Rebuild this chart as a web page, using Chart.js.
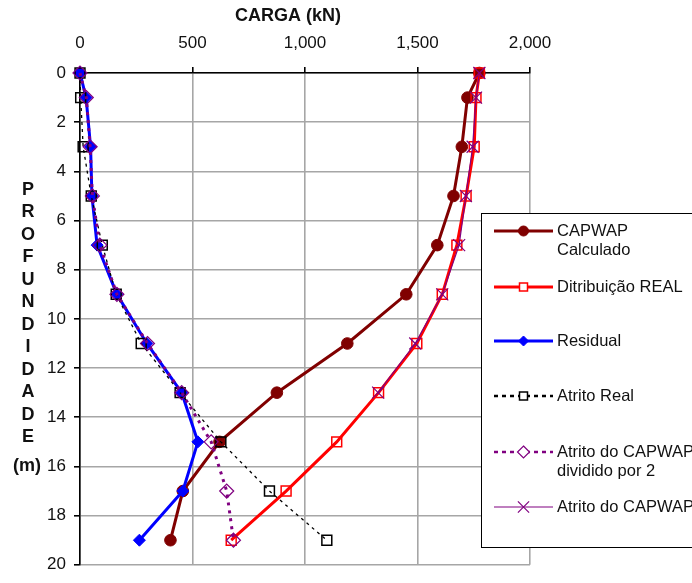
<!DOCTYPE html>
<html>
<head>
<meta charset="utf-8">
<script src="https://cdn.jsdelivr.net/npm/chart.js@4.4.1/dist/chart.umd.min.js"></script>
<style>
html,body{margin:0;padding:0;background:#fff;}
#wrap{position:relative;width:692px;height:583px;}
</style>
</head>
<body>
<div id="wrap"><canvas id="c" width="692" height="583"></canvas></div>
<script>
// ---- data ----
const depths = [0, 1, 3, 5, 7, 9, 11, 13, 15, 17, 19];
const capwapCalculado = [1775, 1722, 1697, 1660, 1588, 1450, 1188, 875, 620, 457, 402];
const distribuicaoReal = [1775, 1760, 1752, 1716, 1675, 1610, 1497, 1327, 1141, 916, 672];
const residual = [0, 27, 47, 53, 76, 164, 297, 452, 524, 457, 264];
const atritoReal = [0, 3, 14, 50, 99, 161, 272, 445, 626, 842, 1097];
const atritoCapwapMeio = [0, 28, 45, 55, 88, 164, 300, 452, 583, 652, 682];
const atritoCapwap = [1775, 1760, 1745, 1715, 1685, 1610, 1490, 1325];
const seriesNames = ['CAPWAP Calculado', 'Ditribuição REAL', 'Residual', 'Atrito Real', 'Atrito do CAPWAP dividido por 2', 'Atrito do CAPWAP'];
const legendLines = [['CAPWAP', 'Calculado'], ['Ditribuição REAL'], ['Residual'], ['Atrito Real'], ['Atrito do CAPWAP', 'dividido por 2'], ['Atrito do CAPWAP']];
const xTickValues = [0, 500, 1000, 1500, 2000];
const xTickLabels = ['0', '500', '1,000', '1,500', '2,000'];
const yTickValues = [0, 2, 4, 6, 8, 10, 12, 14, 16, 18, 20];
const xTitle = 'CARGA (kN)';
const yTitleLetters = ['P','R','O','F','U','N','D','I','D','A','D','E'];
const yTitleUnit = '(m)';

const FONT = "'Liberation Sans', Arial, Helvetica, sans-serif";
Chart.defaults.font.family = FONT;
Chart.defaults.color = '#111';

function pts(vals){ return vals.map((v,i)=>({x:v, y:depths[i]})); }

const styles = [
  {color:'#800000', width:3, dash:[], point:'circle', r:5.8, fill:'#800000', pw:1, lr:5},
  {color:'#ff0000', width:3, dash:[], point:'rect', r:7, fill:'rgba(255,255,255,0)', pw:1.5, lr:5},
  {color:'#0000ff', width:3, dash:[], point:'rectRot', r:6, fill:'#0000ff', pw:1, lr:5},
  {color:'#000000', width:1.3, dash:[3,4], point:'rect', r:7, fill:'rgba(255,255,255,0)', pw:1.5, lr:5},
  {color:'#800080', width:3, dash:[3,5], point:'rectRot', r:7, fill:'rgba(255,255,255,0)', pw:1.2, lr:6},
  {color:'#800080', width:1.2, dash:[], point:'crossRot', r:8.5, fill:'#800080', pw:1.2, lr:8},
];
const seriesData = [capwapCalculado, distribuicaoReal, residual, atritoReal, atritoCapwapMeio, atritoCapwap];

const datasets = seriesData.map((vals,i)=>({
  label: seriesNames[i],
  data: pts(vals),
  borderColor: styles[i].color,
  backgroundColor: styles[i].fill,
  borderWidth: styles[i].width,
  borderDash: styles[i].dash,
  pointStyle: styles[i].point,
  pointRadius: styles[i].r,
  pointHoverRadius: styles[i].r,
  pointBackgroundColor: styles[i].fill,
  pointBorderColor: styles[i].color,
  pointBorderWidth: styles[i].pw,
  tension: 0,
  fill: false,
  clip: false,
  order: 6 - i
}));

function drawMarker(ctx, st, x, y){
  ctx.save();
  ctx.setLineDash([]);
  ctx.lineWidth = st.pw;
  ctx.strokeStyle = st.color;
  ctx.fillStyle = st.fill;
  const r = st.lr;
  ctx.beginPath();
  if (st.point === 'circle') { ctx.arc(x, y, r, 0, Math.PI*2); ctx.fill(); ctx.stroke(); }
  else if (st.point === 'rect') { ctx.fillStyle='#fff'; ctx.rect(x-r*0.8, y-r*0.8, r*1.6, r*1.6); ctx.fill(); ctx.stroke(); }
  else if (st.point === 'rectRot') { ctx.moveTo(x, y-r); ctx.lineTo(x+r, y); ctx.lineTo(x, y+r); ctx.lineTo(x-r, y); ctx.closePath(); if(st.fill.indexOf('rgba')===0){ctx.fillStyle='#fff';} ctx.fill(); ctx.stroke(); }
  else if (st.point === 'crossRot') { const d=r*0.7; ctx.moveTo(x-d,y-d); ctx.lineTo(x+d,y+d); ctx.moveTo(x+d,y-d); ctx.lineTo(x-d,y+d); ctx.stroke(); }
  ctx.restore();
}

const decorPlugin = {
  id: 'decor',
  afterDraw(chart){
    const ctx = chart.ctx;
    ctx.save();
    // x title
    ctx.fillStyle = '#111';
    ctx.font = 'bold 18px ' + FONT;
    ctx.textAlign = 'center';
    ctx.textBaseline = 'middle';
    ctx.fillText(xTitle, 288, 16);
    // y title
    ctx.font = 'bold 18px ' + FONT;
    yTitleLetters.forEach((l,i)=>ctx.fillText(l, 28, 190 + i*22.5));
    ctx.fillText(yTitleUnit, 27, 466);
    // legend box
    const bx = 481.5, by = 213.5, bw = 260, bh = 334;
    ctx.fillStyle = '#fff';
    ctx.fillRect(bx, by, bw, bh);
    ctx.strokeStyle = '#000';
    ctx.lineWidth = 1;
    ctx.strokeRect(bx, by, bw, bh);
    const rowsY = [231, 287, 341, 396, 452, 507];
    ctx.font = '16.5px ' + FONT;
    ctx.textAlign = 'left';
    ctx.textBaseline = 'middle';
    rowsY.forEach((y,i)=>{
      const st = styles[i];
      ctx.save();
      ctx.strokeStyle = st.color;
      ctx.lineWidth = Math.max(st.width, 1.2);
      if (i===3 || i===4) { ctx.lineWidth = 2.5; ctx.setLineDash([4,4]); }
      ctx.beginPath(); ctx.moveTo(494, y); ctx.lineTo(553, y); ctx.stroke();
      ctx.restore();
      drawMarker(ctx, st, 523.5, y);
      ctx.fillStyle = '#111';
      legendLines[i].forEach((t,k)=>ctx.fillText(t, 557, y + k*19.5));
    });
    ctx.restore();
  }
};

new Chart(document.getElementById('c'), {
  type: 'line',
  data: { datasets },
  options: {
    responsive: false,
    animation: false,
    devicePixelRatio: 1,
    layout: { padding: { left: 0, top: 0, right: 162, bottom: 7 } },
    plugins: { legend: { display: false }, tooltip: { enabled: false }, title: { display: false } },
    scales: {
      x: {
        type: 'linear', position: 'top', min: 0, max: 2000,
        afterFit(s){ s.height = 73; },
        afterBuildTicks(s){ s.ticks = xTickValues.map(v=>({value:v})); },
        ticks: {
          font: { size: 17 }, color: '#111', padding: 13, maxRotation: 0,
          callback(v){ const i = xTickValues.indexOf(v); return i>=0 ? xTickLabels[i] : ''; }
        },
        grid: { color: '#a6a6a6', lineWidth: 1.6, tickColor: '#000', tickLength: 6, drawTicks: true },
        border: { color: '#000', width: 1.6 }
      },
      y: {
        type: 'linear', reverse: true, min: 0, max: 20,
        afterFit(s){ s.width = 80; },
        afterBuildTicks(s){ s.ticks = yTickValues.map(v=>({value:v})); },
        ticks: { font: { size: 17 }, color: '#111', padding: 8 },
        grid: { color: '#a6a6a6', lineWidth: 1.6, tickColor: '#000', tickLength: 6 },
        border: { color: '#000', width: 1.6 }
      }
    }
  },
  plugins: [decorPlugin]
});
</script>
</body>
</html>
